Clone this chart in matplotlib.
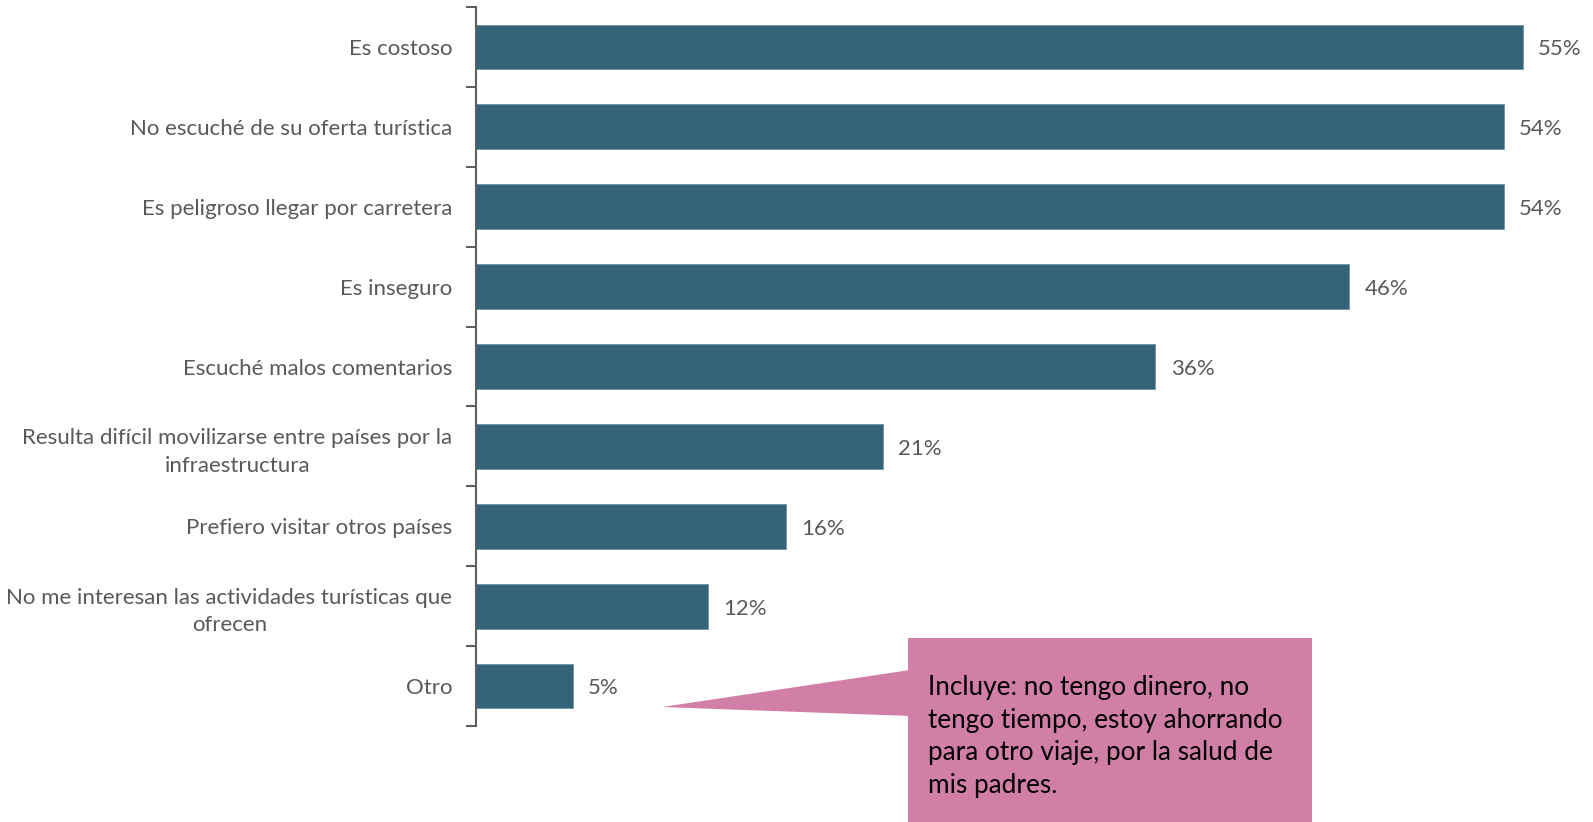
import matplotlib.pyplot as plt
from matplotlib.patches import Polygon, Rectangle

categories = ['Es costoso', 'No escuché de su oferta turística', 'Es peligroso llegar por carretera',
              'Es inseguro', 'Escuché malos comentarios',
              'Resulta difícil movilizarse entre países por la\ninfraestructura',
              'Prefiero visitar otros países',
              'No me interesan las actividades turísticas que\nofrecen', 'Otro']
values = [55.0, 54.0, 54.0, 45.9, 35.7, 21.4, 16.3, 12.2, 5.1]
callout_text = 'Incluye: no tengo dinero, no\ntengo tiempo, estoy ahorrando\npara otro viaje, por la salud de\nmis padres.'

plt.rcParams['font.family'] = ['Lato', 'DejaVu Sans']

W, H = 1593, 822
fig = plt.figure(figsize=(W / 100, H / 100), dpi=100)
ax = fig.add_axes([476 / W, 1 - 726 / H, 1 - 476 / W, (726 - 7) / H])

y = list(range(len(categories)))
ax.barh(y, values, height=0.56, color='#35647A', edgecolor='#6f93a5', linewidth=0.6)
for yi, v in zip(y, values):
    ax.text(v + 0.8, yi + 0.03, f'{v:.0f}%', va='center', ha='left', fontsize=16, color='#595959')

ax.set_ylim(len(categories) - 0.5, -0.5)
ax.set_xlim(0, 58.7)
ax.set_yticks(y)
ax.set_yticklabels(categories, fontsize=16, color='#595959', linespacing=1.45)
ax.tick_params(axis='y', which='major', length=0, pad=17)
ax.set_yticks([i - 0.5 for i in range(len(categories) + 1)], minor=True)
ax.tick_params(axis='y', which='minor', length=7, width=1.5, color='#5f5f5f')
for lab in ax.get_yticklabels():
    lab.set_horizontalalignment('right')
    lab.set_multialignment('center')
ax.xaxis.set_visible(False)
for s in ['top', 'right', 'bottom']:
    ax.spines[s].set_visible(False)
ax.spines['left'].set_color('#5f5f5f')
ax.spines['left'].set_linewidth(1.5)

# callout box
pink = '#D17FA6'
def fx(px):
    return px / W
def fy(py):
    return 1 - py / H
fig.patches.append(Rectangle((fx(908), fy(822)), fx(1312) - fx(908), fy(638) - fy(822),
                             transform=fig.transFigure, facecolor=pink, edgecolor='none'))
fig.patches.append(Polygon([(fx(662), fy(707)), (fx(910), fy(670)), (fx(910), fy(716))],
                           closed=True, transform=fig.transFigure, facecolor=pink, edgecolor='none'))
fig.text(fx(928), fy(675), callout_text, ha='left', va='top', fontsize=18.8, color='black',
         linespacing=1.38)

fig.savefig('out.png', dpi=100)
